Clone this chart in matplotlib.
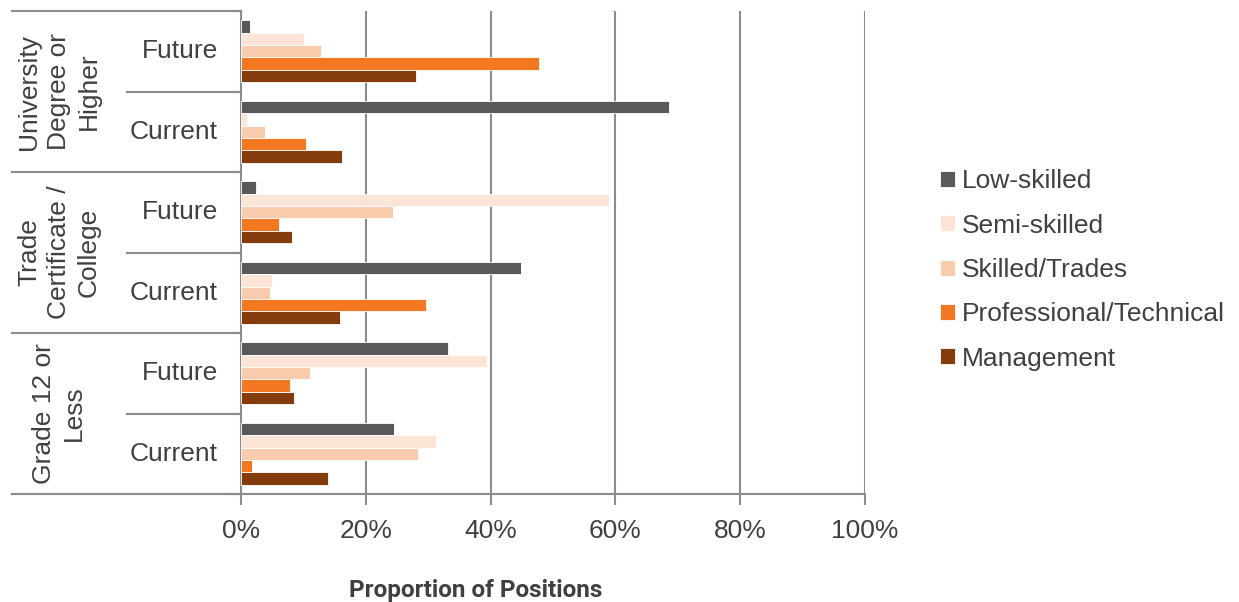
import matplotlib.pyplot as plt
import numpy as np

plt.rcParams['font.family'] = ['Liberation Sans', 'DejaVu Sans']

# categories, top to bottom
groups = ["University\nDegree or\nHigher", "Trade\nCertificate /\nCollege", "Grade 12 or\nLess"]
periods = ["Future", "Current"]

series = ["Low-skilled", "Semi-skilled", "Skilled/Trades", "Professional/Technical", "Management"]
colors = ["#595959", "#FCE4D6", "#F8CBAD", "#F47721", "#843C0C"]

# rows: Univ Future, Univ Current, Trade Future, Trade Current, Grade Future, Grade Current
low = [1.4, 68.6, 2.4, 44.9, 33.1, 24.5]
semi = [10.1, 1.0, 58.9, 4.9, 39.4, 31.3]
skilled = [12.8, 3.9, 24.3, 4.6, 11.0, 28.3]
prof = [47.7, 10.4, 6.1, 29.6, 7.9, 1.8]
mgmt = [28.0, 16.2, 8.2, 15.9, 8.5, 14.0]
values = [low, semi, skilled, prof, mgmt]

xticks = [0, 20, 40, 60, 80, 100]

text_c = "#404040"
grid_c = "#8C8C8C"

fig = plt.figure(figsize=(12.39, 6.02), dpi=100)
ax = fig.add_axes([241 / 1239, 108 / 602, 624 / 1239, 483 / 602])

n = len(low)
centers = np.arange(n)[::-1] + 0.5
h = 0.154
for j, (name, vals, c) in enumerate(zip(series, values, colors)):
    ax.barh(centers + (2 - j) * h, np.array(vals) / 100, height=h, color=c,
            label=name, edgecolor="white", linewidth=0.6, zorder=3)

ax.set_xlim(0, 1)
ax.set_ylim(0, n)
ax.set_xticks([t / 100 for t in xticks])
ax.set_xticklabels([f"{t}%" for t in xticks])
ax.set_yticks([])
ax.tick_params(axis="x", length=8, width=1.5, color=grid_c, pad=10,
               labelsize=19, labelcolor=text_c)
for x in xticks[1:]:
    ax.axvline(x / 100, color=grid_c, lw=1.5, zorder=1)
for s in ["top", "right", "bottom"]:
    ax.spines[s].set_visible(False)
ax.spines["left"].set_color(grid_c)
ax.spines["left"].set_linewidth(1.5)

# two-level category axis
yt = ax.get_yaxis_transform()
outer_x = (12 - 241) / 624
inner_x = (127 - 241) / 624
for y in range(0, n + 1, 2):
    ax.plot([outer_x, 0], [y, y], color=grid_c, lw=1.5, transform=yt, clip_on=False)
for y in range(1, n, 2):
    ax.plot([inner_x, 0], [y, y], color=grid_c, lw=1.5, transform=yt, clip_on=False)
ax.plot([outer_x, 1], [0, 0], color=grid_c, lw=1.5, transform=yt, clip_on=False)
for y in range(n + 1):
    ax.plot([-10 / 624, 0], [y, y], color=grid_c, lw=1.5, transform=yt, clip_on=False)

for i, c in enumerate(centers):
    ax.text((218 - 241) / 624, c, periods[i % 2], transform=yt, ha="right",
            va="center", fontsize=19, color=text_c)
for g, name in enumerate(groups):
    ax.text((59 - 241) / 624, n - 1 - 2 * g, name, transform=yt, ha="center",
            va="center", rotation=90, multialignment="center", fontsize=19,
            color=text_c, linespacing=1.32)

fig.text(475.5 / 1239, 1 - 591 / 602, "Proportion of Positions", ha="center",
         va="center", fontsize=17.5, fontweight="bold", color=text_c, family="Roboto")

leg = ax.legend(loc="center left", bbox_to_anchor=(940 / 1239, 1 - 270 / 602),
                bbox_transform=fig.transFigure, frameon=False, fontsize=19,
                handlelength=0.55, handleheight=0.55, handletextpad=0.27,
                labelspacing=0.77, borderaxespad=0, borderpad=0)
for t in leg.get_texts():
    t.set_color(text_c)

fig.savefig("out.png", dpi=100)
